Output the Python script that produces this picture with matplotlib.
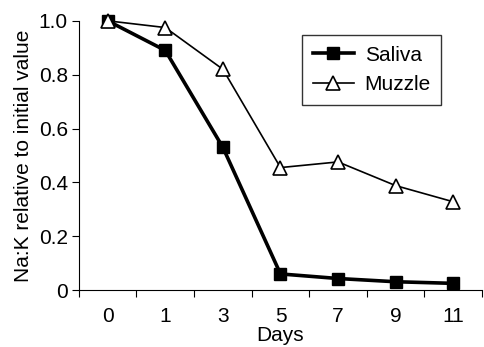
import numpy as np
import matplotlib.pyplot as plt

plt.rcParams['font.family'] = ['Liberation Sans', 'DejaVu Sans']

days = ['0', '1', '3', '5', '7', '9', '11']
saliva = [1.0, 0.89, 0.53, 0.06, 0.043, 0.031, 0.025]
muzzle = [1.0, 0.975, 0.82, 0.455, 0.476, 0.388, 0.328]

fig = plt.figure(figsize=(4.84, 3.47), dpi=100)
ax = fig.add_axes([0.163, 0.164, 0.833, 0.776])

x = np.arange(len(days))
ax.plot(x, saliva, color='black', lw=2.6, marker='s', ms=9,
        mfc='black', mec='black', label='Saliva', clip_on=False, zorder=3)
ax.plot(x, muzzle, color='black', lw=1.2, marker='^', ms=10,
        mfc='white', mec='black', mew=1.2, label='Muzzle', clip_on=False, zorder=3)

ax.set_xlim(-0.5, len(days) - 0.5)
ax.set_ylim(0, 1.0)
ax.set_yticks([0, 0.2, 0.4, 0.6, 0.8, 1.0])
ax.set_yticklabels(['0', '0.2', '0.4', '0.6', '0.8', '1.0'])
# ticks sit between categories, labels at the centres
ax.set_xticks(np.arange(-0.5, len(days)))
ax.set_xticklabels([])
ax.set_xticks(x, minor=True)
ax.set_xticklabels(days, minor=True)
ax.tick_params(axis='x', which='minor', length=0, labelsize=15, pad=12)
ax.tick_params(axis='x', which='major', length=5, direction='out')
ax.tick_params(axis='y', labelsize=15, length=5, direction='out', pad=3)

ax.spines['top'].set_visible(False)
ax.spines['right'].set_visible(False)

ax.set_xlabel('Days', fontsize=15, labelpad=0)
ax.set_ylabel('Na:K relative to initial value', fontsize=15, labelpad=4)

leg = ax.legend(loc='upper right', bbox_to_anchor=(0.925, 0.985), fontsize=15,
                frameon=True, fancybox=False, edgecolor='black',
                handlelength=2.0, borderpad=0.5, labelspacing=0.5,
                handletextpad=0.5)
leg.get_frame().set_linewidth(1.0)

fig.savefig('out.png', dpi=100)
